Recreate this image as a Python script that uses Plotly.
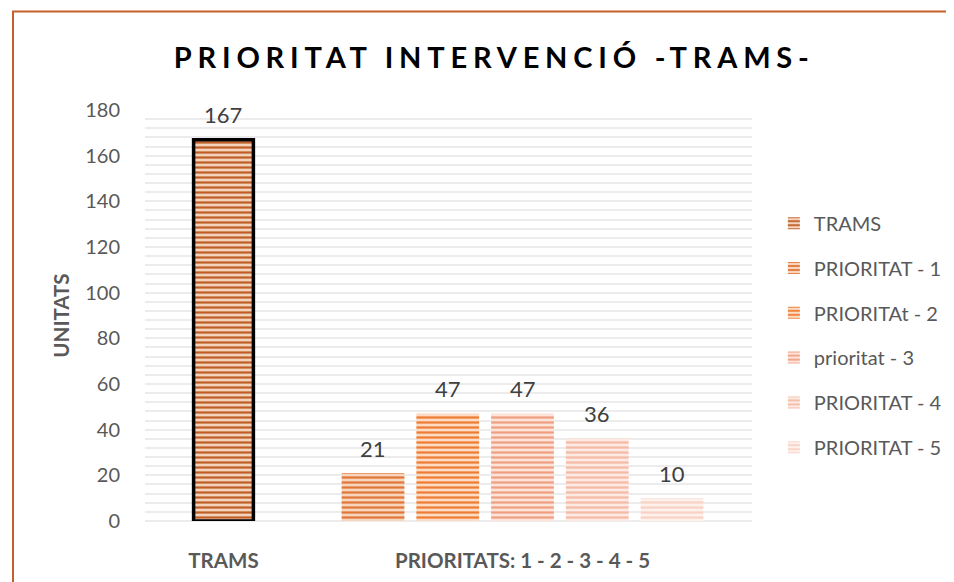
import plotly.graph_objects as go

# ---- data ----
series_names = ["TRAMS", "PRIORITAT - 1", "PRIORITAt - 2", "prioritat - 3", "PRIORITAT - 4", "PRIORITAT - 5"]
values = [167, 21, 47, 47, 36, 10]
category_labels = ["TRAMS", "PRIORITATS: 1 - 2 - 3 - 4 - 5"]
y_ticks = [0, 20, 40, 60, 80, 100, 120, 140, 160, 180]

# styles
stripe_fg = ["#bf5f27", "#e0773a", "#ee7d33", "#efa083", "#f4bba6", "#f8d2c5"]
stripe_bg = ["#f4d3bd", "#f8d6be", "#fcdcc4", "#fde3d8", "#fdeae2", "#fef1ec"]

# slot layout: TRAMS in slot 0, priorities in slots 2..6
positions = [0] + [i + 1 for i in range(1, len(values))]
cat_positions = [positions[0], sum(positions[1:]) / len(positions[1:])]

FONT = "Lato, 'Open Sans', sans-serif"
GREY = "#595959"

# figure sits at (8,8) inside the page body
W, H = 946, 574
ML, MT, PW, PH = 137, 102, 607, 411

fig = go.Figure()
for i, (name, v) in enumerate(zip(series_names, values)):
    w = 0.80 if i == 0 else 0.84
    fig.add_trace(go.Bar(
        x=[positions[i]], y=[v], name=name, width=w,
        legendgroup=name,
        marker=dict(
            color=stripe_bg[i], line=dict(width=0),
            pattern=dict(shape="-", fgcolor=stripe_fg[i], bgcolor=stripe_bg[i],
                         size=5, solidity=0.45, fillmode="replace"),
        ),
        hoverinfo="skip",
    ))
    if i == 0:
        # black outline of the TRAMS bar (kept out of the legend)
        fig.add_trace(go.Bar(
            x=[positions[i]], y=[v], width=w, showlegend=False,
            marker=dict(color="rgba(0,0,0,0)", line=dict(color="#000000", width=3.5)),
            hoverinfo="skip",
        ))
    fig.add_annotation(x=positions[i], y=v, text=str(v), showarrow=False,
                       yshift=25, font=dict(family=FONT, size=22, color="#404040"))

fig.update_layout(
    width=W, height=H,
    margin=dict(l=ML, r=W - ML - PW, t=MT, b=H - MT - PH, autoexpand=False),
    paper_bgcolor="white", plot_bgcolor="white",
    barmode="overlay",
    showlegend=True,
    title=dict(
        text='<b><span style="letter-spacing:5.8px">PRIORITAT INTERVENCIÓ -TRAMS-</span></b>',
        x=0.514, xref="container", xanchor="center",
        y=0.914, yref="container", yanchor="middle",
        font=dict(family=FONT, size=29, color="#000000"),
    ),
    legend=dict(
        x=1.036, xanchor="left", y=0.772, yanchor="top",
        font=dict(family=FONT, size=20, color=GREY),
        tracegroupgap=15.8, traceorder="grouped",
        bgcolor="rgba(0,0,0,0)",
    ),
    xaxis=dict(
        range=[-1.05, 7.07], showgrid=False, zeroline=False, showline=False,
        tickvals=cat_positions, ticktext=[f"<b>{c}</b>" for c in category_labels],
        tickfont=dict(family=FONT, size=20.5, color=GREY),
        ticks="", ticklabelstandoff=25, automargin=False,
    ),
    yaxis=dict(
        range=[0, 180], tickvals=y_ticks,
        showgrid=True, gridcolor="#ececec", gridwidth=1.5,
        zeroline=True, zerolinecolor="#ececec", zerolinewidth=1.5,
        minor=dict(dtick=4, showgrid=True, gridcolor="#ececec", gridwidth=1.5),
        tickfont=dict(family=FONT, size=20, color=GREY),
        ticks="", ticklabelstandoff=24, automargin=False,
        title=dict(text="<b>UNITATS</b>", standoff=10,
                   font=dict(family=FONT, size=20.5, color=GREY)),
    ),
    shapes=[dict(type="rect", xref="paper", yref="paper",
                 x0=(5 - ML) / PW, x1=(960 - ML) / PW,
                 y0=(MT + PH - 600) / PH, y1=(MT + PH - 3.5) / PH,
                 line=dict(color="#c5602a", width=2), fillcolor="rgba(0,0,0,0)",
                 layer="below")],
)

fig.write_html("out.html")
